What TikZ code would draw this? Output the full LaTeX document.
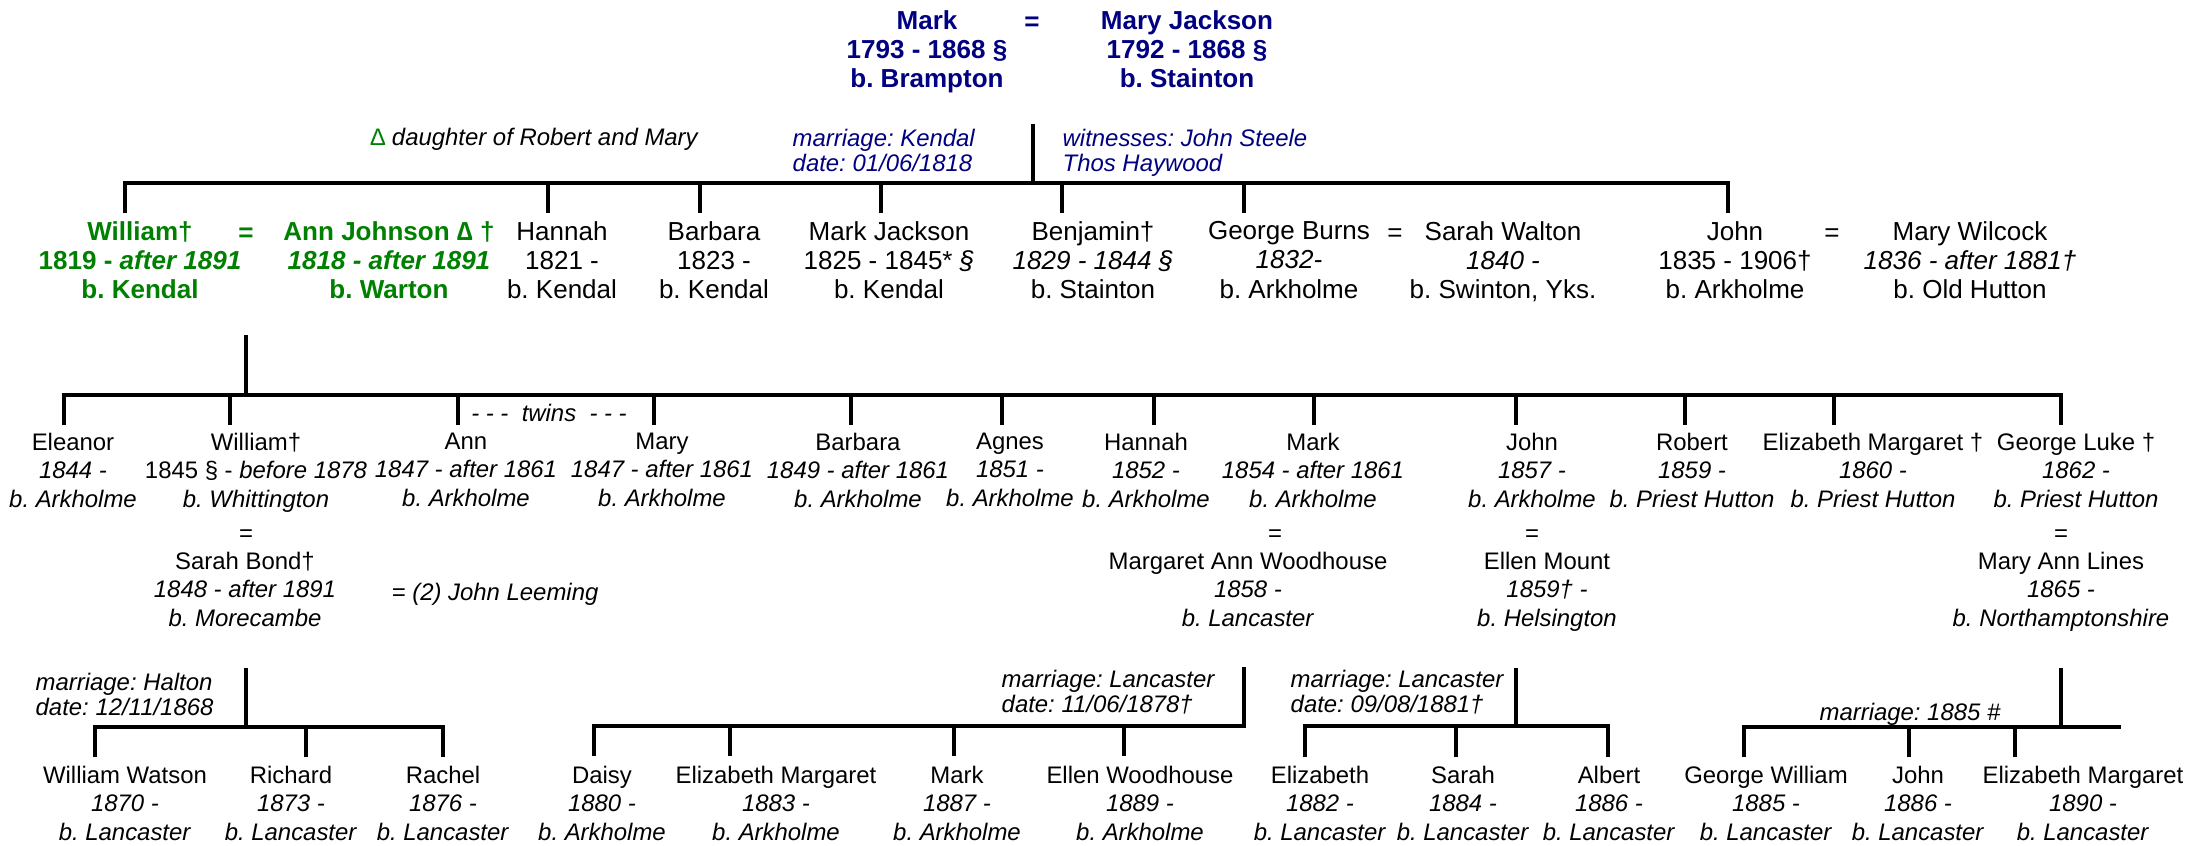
\documentclass[tikz,border=0pt]{standalone}
\usepackage{fontspec}
\setmainfont{Liberation Sans}
\definecolor{navy}{RGB}{0,0,128}
\definecolor{leaf}{RGB}{0,128,0}
\newcommand{\fbg}{\fontsize{7.4}{8.34}\selectfont\frenchspacing}
\newcommand{\fsm}{\fontsize{6.8}{8.2}\selectfont\frenchspacing}
\newcommand{\fnote}{\fontsize{6.8}{7.25}\selectfont\frenchspacing\itshape}
\tikzset{
  tree/.style={line width=1.1pt, line join=miter},
  gen/.style={anchor=north, align=center, inner sep=0pt, execute at begin node=\strut},
  elder/.style={gen, font=\fbg},
  founder/.style={gen, font=\fbg\bfseries, text=navy},
  kin/.style={gen, font=\fbg\bfseries, text=leaf},
  kid/.style={gen, font=\fsm},
  wed/.style={anchor=base, inner sep=0pt},
  note/.style={anchor=north west, align=left, inner sep=0pt, font=\fnote, execute at begin node=\strut},
}
\begin{document}
\begin{tikzpicture}[x=0.01cm, y=-0.01cm]
  \useasboundingbox (0,0) rectangle (2190,845);

  % Mark and Mary
  \node[founder] (mark0) at (927,9.5) {Mark\\1793 - 1868 §\\b. Brampton};
  \node[wed, font=\fbg\bfseries, text=navy] (eq0) at (1032,30) {=};
  \node[founder] (mary0) at (1187,9.5) {Mary Jackson\\1792 - 1868 §\\b. Stainton};

  \node[wed, anchor=base west, font=\fsm] (dau) at (370,145) {{\color{leaf}∆} \textit{daughter of Robert and Mary}};
  \node[note, text=navy] (wed0) at (792,128) {marriage: Kendal\\date: 01/06/1818};
  \node[note, text=navy] (wit0) at (1062,128) {witnesses: John Steele\\Thos Haywood};

  % their children
  \node[kin] (william1) at (140,220.5) {William†\\1819 - \textit{after 1891}\\b. Kendal};
  \node[wed, font=\fbg\bfseries, text=leaf] (eq1) at (246,241) {=};
  \node[kin] (ann1) at (389,220.5) {Ann Johnson ∆ †\\\textit{1818 - after 1891}\\b. Warton};
  \node[elder] (hannah1) at (562,220.5) {Hannah\\1821 -\\b. Kendal};
  \node[elder] (barbara1) at (714,220.5) {Barbara\\1823 -\\b. Kendal};
  \node[elder] (markj) at (889,220.5) {Mark Jackson\\1825 - 1845* \textit{§}\\b. Kendal};
  \node[elder] (benjamin) at (1093,220.5) {Benjamin†\\\textit{1829 - 1844 §}\\b. Stainton};
  \node[elder] (george1) at (1289,220.5) {George Burns\\\textit{1832-}\\b. Arkholme};
  \node[wed, font=\fbg] (eq2) at (1395,241) {=};
  \node[elder] (sarahw) at (1503,220.5) {Sarah Walton\\\textit{1840 -}\\b. Swinton, Yks.};
  \node[elder] (john1) at (1735,220.5) {John\\1835 - 1906†\\b. Arkholme};
  \node[wed, font=\fbg] (eq3) at (1832,241) {=};
  \node[elder] (maryw) at (1970,220.5) {Mary Wilcock\\\textit{1836 - after 1881†}\\b. Old Hutton};

  \coordinate (g1top) at (1033,124);
  \coordinate (g1) at (1033,183);
  \coordinate (william1-t) at (125,213);
  \coordinate (hannah1-t) at (548,213);
  \coordinate (barbara1-t) at (700,213);
  \coordinate (markj-t) at (881,213);
  \coordinate (benjamin-t) at (1062,213);
  \coordinate (george1-t) at (1244,213);
  \coordinate (john1-t) at (1728,213);
  \draw[tree] (g1top) -- (g1);
  \draw[tree] (william1-t) -- (william1-t |- g1) -- (john1-t |- g1) -- (john1-t);
  \foreach \k in {hannah1,barbara1,markj,benjamin,george1}
    \draw[tree] (\k-t) -- (\k-t |- g1);

  % William and Ann's children
  \node[kid] (eleanor) at (73,432) {Eleanor\\\textit{1844 -}\\\textit{b. Arkholme}};
  \node[kid] (william2) at (256,432) {William†\\1845 § - \textit{before 1878}\\\textit{b. Whittington}};
  \node[wed, font=\fsm] (eq4) at (246,541) {=};
  \node[kid] (sarahb) at (245,551) {Sarah Bond†\\\textit{1848 - after 1891}\\\textit{b. Morecambe}};
  \node[kid] (ann2) at (466,432) {Ann\\\textit{1847 - after 1861}\\\textit{b. Arkholme}};
  \node[wed, font=\fnote] (twins) at (549,421) {- - -\ \ twins\ \ - - -};
  \node[wed, anchor=base west, font=\fnote] (leeming) at (391,600) {= (2) John Leeming};
  \node[kid] (mary2) at (662,432) {Mary\\\textit{1847 - after 1861}\\\textit{b. Arkholme}};
  \node[kid] (barbara2) at (858,432) {Barbara\\\textit{1849 - after 1861}\\\textit{b. Arkholme}};
  \node[kid] (agnes) at (1010,432) {Agnes\\\textit{1851 -}\\\textit{b. Arkholme}};
  \node[kid] (hannah2) at (1146,432) {Hannah\\\textit{1852 -}\\\textit{b. Arkholme}};
  \node[kid] (mark2) at (1313,432) {Mark\\\textit{1854 - after 1861}\\\textit{b. Arkholme}};
  \node[wed, font=\fsm] (eq5) at (1275,541) {=};
  \node[kid] (margaret) at (1248,551) {Margaret Ann Woodhouse\\\textit{1858 -}\\\textit{b. Lancaster}};
  \node[kid] (john2) at (1532,432) {John\\\textit{1857 -}\\\textit{b. Arkholme}};
  \node[wed, font=\fsm] (eq6) at (1532,541) {=};
  \node[kid] (ellen) at (1547,551) {Ellen Mount\\\textit{1859† -}\\\textit{b. Helsington}};
  \node[kid] (robert) at (1692,432) {Robert\\\textit{1859 -}\\\textit{b. Priest Hutton}};
  \node[kid] (elizm2) at (1873,432) {Elizabeth Margaret †\\\textit{1860 -}\\\textit{b. Priest Hutton}};
  \node[kid] (georgel) at (2076,432) {George Luke †\\\textit{1862 -}\\\textit{b. Priest Hutton}};
  \node[wed, font=\fsm] (eq7) at (2061,541) {=};
  \node[kid] (maryal) at (2061,551) {Mary Ann Lines\\\textit{1865 -}\\\textit{b. Northamptonshire}};

  \coordinate (g2top) at (246,335);
  \coordinate (g2) at (246,395);
  \coordinate (eleanor-t) at (64,425);
  \coordinate (william2-t) at (230,425);
  \coordinate (ann2-t) at (458,425);
  \coordinate (mary2-t) at (654,425);
  \coordinate (barbara2-t) at (851,425);
  \coordinate (agnes-t) at (1002,425);
  \coordinate (hannah2-t) at (1154,425);
  \coordinate (mark2-t) at (1314,425);
  \coordinate (john2-t) at (1516,425);
  \coordinate (robert-t) at (1685,425);
  \coordinate (elizm2-t) at (1834,425);
  \coordinate (georgel-t) at (2061,425);
  \draw[tree] (g2top) -- (g2);
  \draw[tree] (eleanor-t) -- (eleanor-t |- g2) -- (georgel-t |- g2) -- (georgel-t);
  \foreach \k in {william2,ann2,mary2,barbara2,agnes,hannah2,mark2,john2,robert,elizm2}
    \draw[tree] (\k-t) -- (\k-t |- g2);

  % grandchildren
  \node[note] (wedA) at (35,672) {marriage: Halton\\date: 12/11/1868};
  \node[kid] (wwatson) at (125,765) {William Watson\\\textit{1870 -}\\\textit{b. Lancaster}};
  \node[kid] (richard) at (291,765) {Richard\\\textit{1873 -}\\\textit{b. Lancaster}};
  \node[kid] (rachel) at (443,765) {Rachel\\\textit{1876 -}\\\textit{b. Lancaster}};

  \node[note] (wedB) at (1001,669) {marriage: Lancaster\\date: 11/06/1878†};
  \node[kid] (daisy) at (602,765) {Daisy\\\textit{1880 -}\\\textit{b. Arkholme}};
  \node[kid] (elizm3) at (776,765) {Elizabeth Margaret\\\textit{1883 -}\\\textit{b. Arkholme}};
  \node[kid] (mark3) at (957,765) {Mark\\\textit{1887 -}\\\textit{b. Arkholme}};
  \node[kid] (ellenw) at (1140,765) {Ellen Woodhouse\\\textit{1889 -}\\\textit{b. Arkholme}};

  \node[note] (wedC) at (1290,669) {marriage: Lancaster\\date: 09/08/1881†};
  \node[kid] (elizabeth3) at (1320,765) {Elizabeth\\\textit{1882 -}\\\textit{b. Lancaster}};
  \node[kid] (sarah3) at (1463,765) {Sarah\\\textit{1884 -}\\\textit{b. Lancaster}};
  \node[kid] (albert) at (1609,765) {Albert\\\textit{1886 -}\\\textit{b. Lancaster}};

  \node[wed, font=\fnote] (wedD) at (1910,720) {marriage: 1885 \#};
  \node[kid] (georgew) at (1766,765) {George William\\\textit{1885 -}\\\textit{b. Lancaster}};
  \node[kid] (john3) at (1918,765) {John\\\textit{1886 -}\\\textit{b. Lancaster}};
  \node[kid] (elizm4) at (2083,765) {Elizabeth Margaret\\\textit{1890 -}\\\textit{b. Lancaster}};

  \coordinate (gAtop) at (246,668);
  \coordinate (gA) at (246,727);
  \coordinate (wwatson-t) at (95,757);
  \coordinate (richard-t) at (306,757);
  \coordinate (rachel-t) at (443,757);
  \draw[tree] (gAtop) -- (gA);
  \draw[tree] (wwatson-t) -- (wwatson-t |- gA) -- (rachel-t |- gA) -- (rachel-t);
  \draw[tree] (richard-t) -- (richard-t |- gA);

  \coordinate (gBtop) at (1244,667);
  \coordinate (gB) at (1244,726);
  \coordinate (daisy-t) at (594,756);
  \coordinate (elizm3-t) at (730,756);
  \coordinate (mark3-t) at (954,756);
  \coordinate (ellenw-t) at (1124,756);
  \draw[tree] (daisy-t) -- (daisy-t |- gB) -- (gB) -- (gBtop);
  \foreach \k in {elizm3,mark3,ellenw}
    \draw[tree] (\k-t) -- (\k-t |- gB);

  \coordinate (gCtop) at (1516,668);
  \coordinate (gC) at (1516,726);
  \coordinate (elizabeth3-t) at (1305,757);
  \coordinate (sarah3-t) at (1456,757);
  \coordinate (albert-t) at (1608,757);
  \draw[tree] (gCtop) -- (gC);
  \draw[tree] (elizabeth3-t) -- (elizabeth3-t |- gC) -- (albert-t |- gC) -- (albert-t);
  \draw[tree] (sarah3-t) -- (sarah3-t |- gC);

  \coordinate (gDtop) at (2061,668);
  \coordinate (gD) at (2061,727);
  \coordinate (gDend) at (2121,727);
  \coordinate (georgew-t) at (1744,757);
  \coordinate (john3-t) at (1909,757);
  \coordinate (elizm4-t) at (2015,757);
  \draw[tree] (gDtop) -- (gD);
  \draw[tree] (georgew-t) -- (georgew-t |- gD) -- (gDend);
  \foreach \k in {john3,elizm4}
    \draw[tree] (\k-t) -- (\k-t |- gD);
\end{tikzpicture}
\end{document}
